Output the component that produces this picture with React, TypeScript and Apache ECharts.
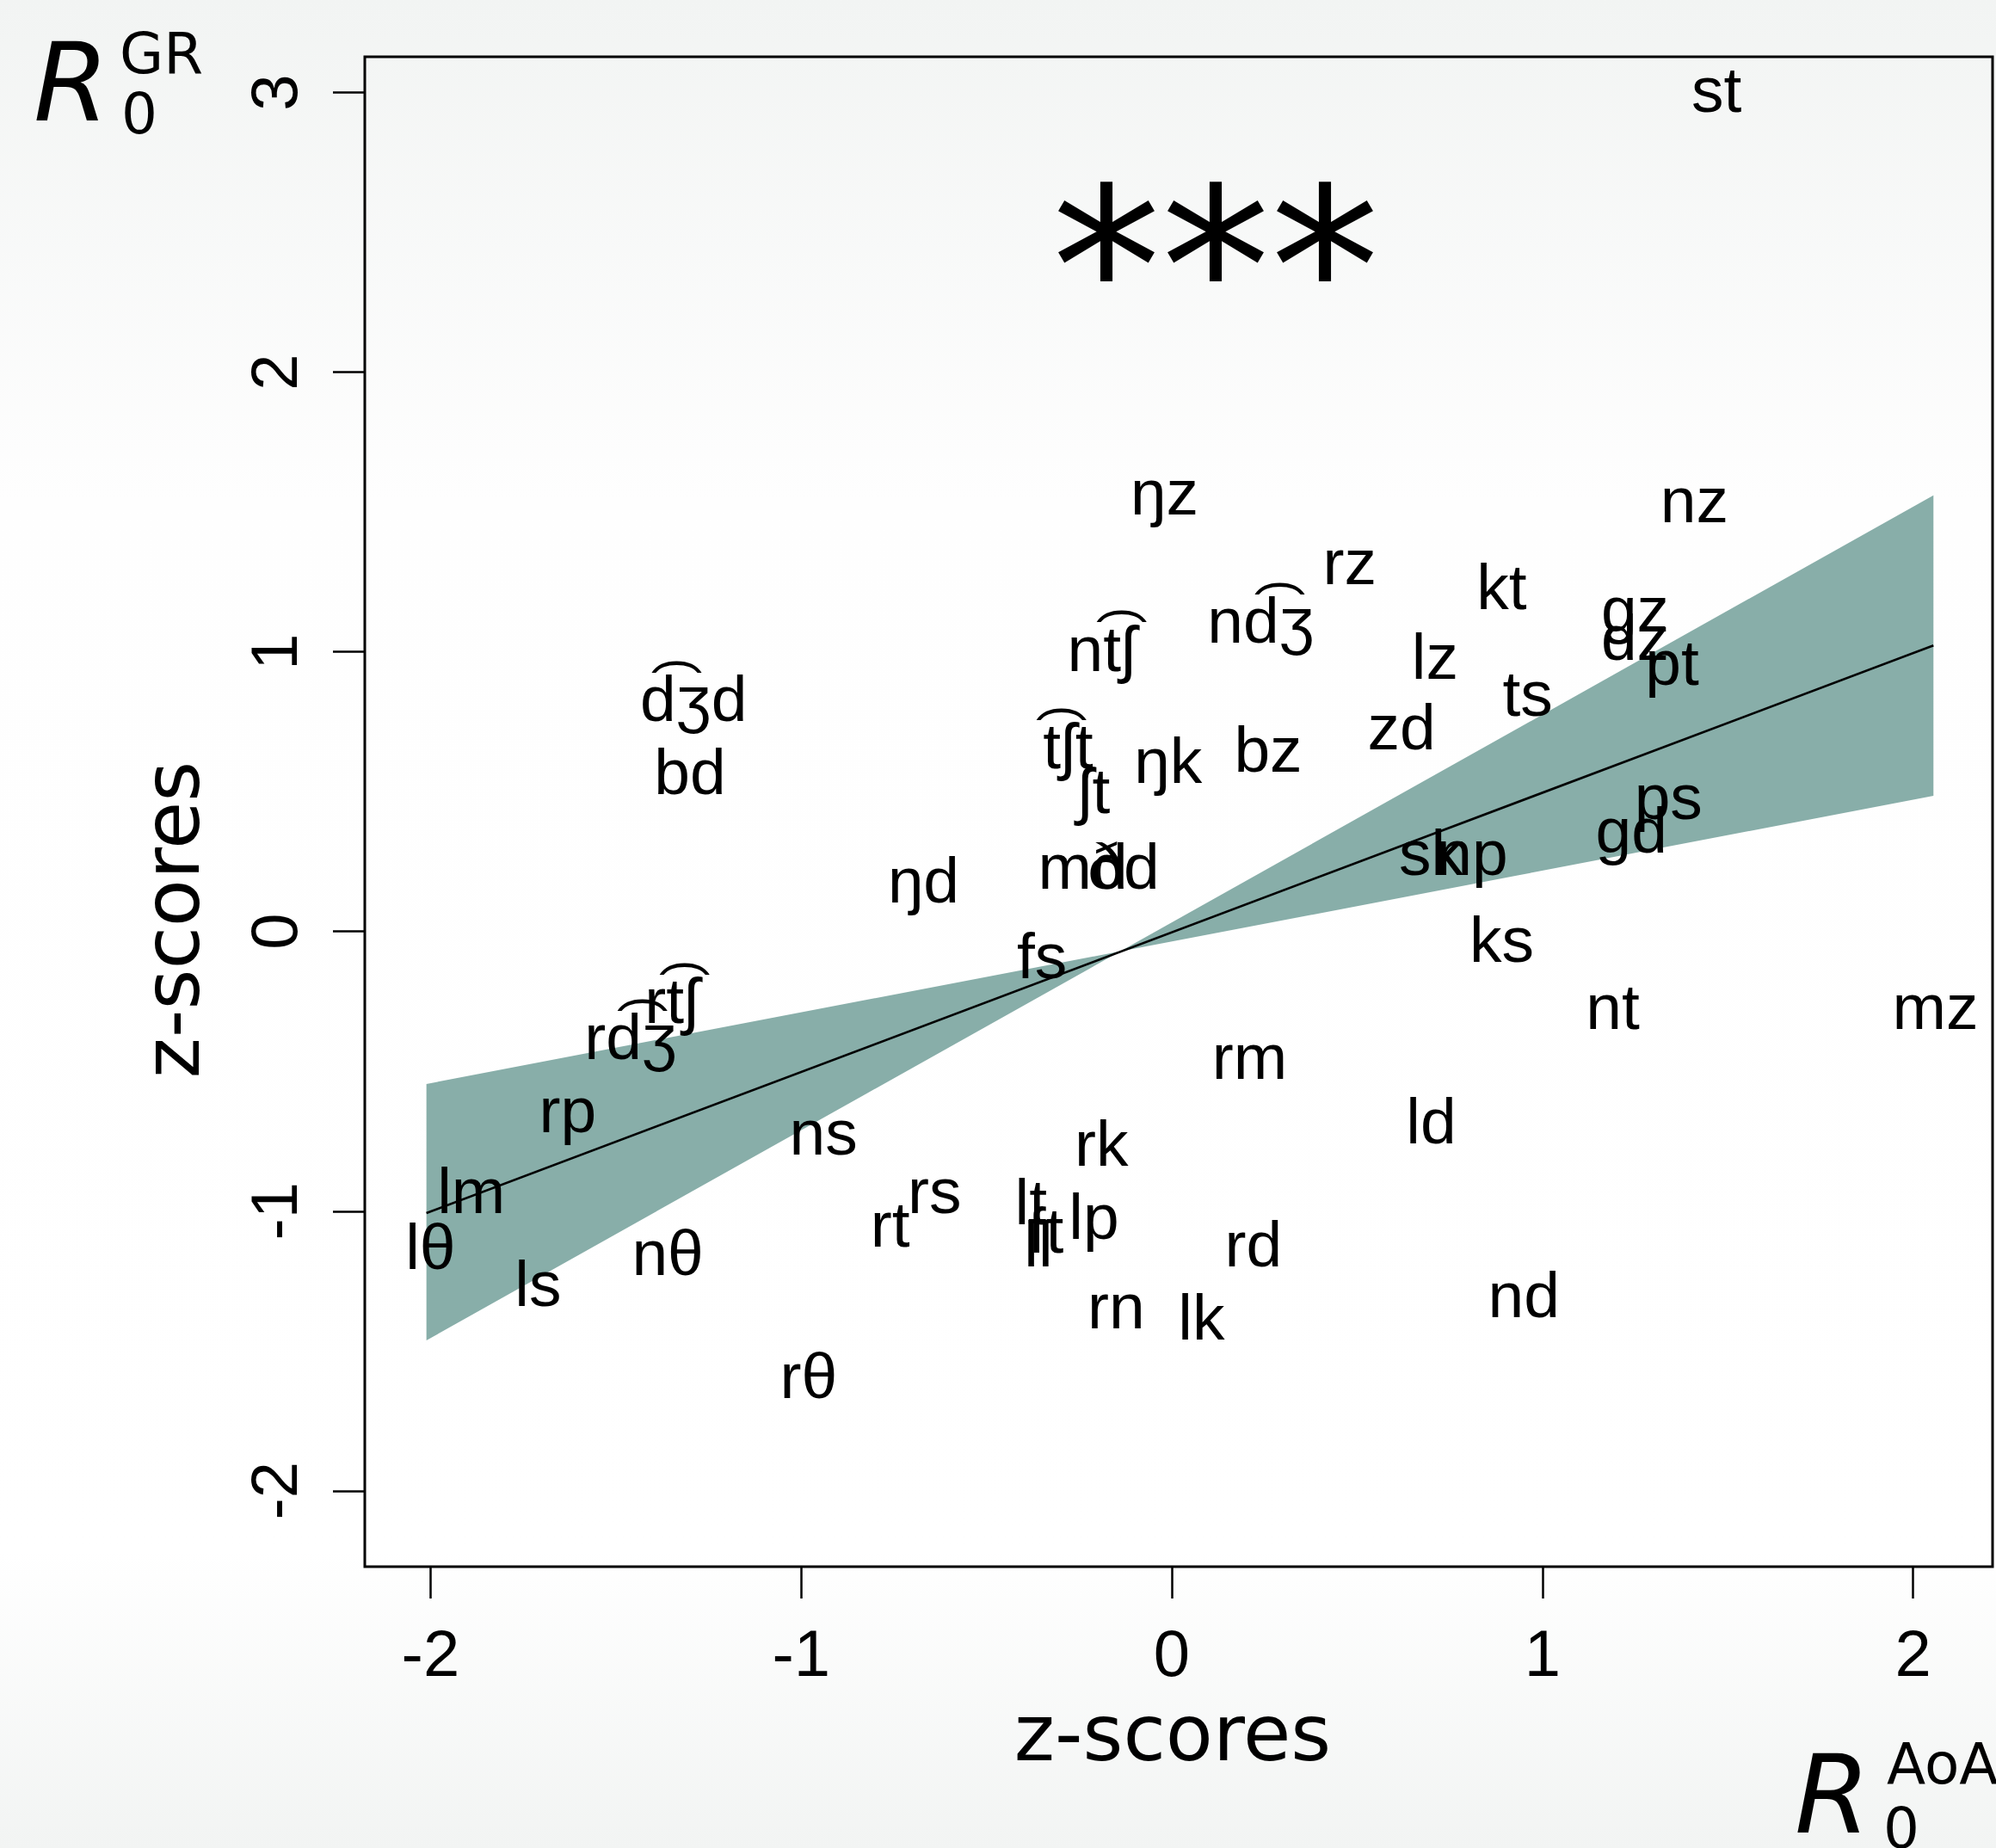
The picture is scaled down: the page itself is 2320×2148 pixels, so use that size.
import React, { useEffect, useRef } from "react";
import * as echarts from "echarts";

// ---- data ----
const labels = [
  "st", "\u014Bz", "nz", "rz", "kt", "nd\u0361\u0292", "nt\u0361\u0283", "gz", "dz", "lz",
  "pt", "ts", "d\u0361\u0292d", "zd", "t\u0361\u0283t", "\u0283t", "\u014Bk", "bz", "bd", "ps",
  "gd", "sk", "np", "\u00F0d", "md", "\u014Bd", "fs", "ks", "rt\u0361\u0283", "rd\u0361\u0292",
  "nt", "mz", "rm", "rp", "ld", "ns", "rk", "lm", "rs", "lt",
  "lp", "ft", "ll", "l\u03B8", "rt", "rd", "n\u03B8", "ls", "nd", "rn",
  "lk", "r\u03B8",
];
const xVals = [
  1.47, -0.02, 1.41, 0.48, 0.89, 0.24, -0.19, 1.25, 1.25, 0.71,
  1.35, 0.96, -1.29, 0.62, -0.28, -0.21, -0.01, 0.26, -1.30, 1.34,
  1.24, 0.70, 0.81, -0.13, -0.24, -0.67, -0.35, 0.89, -1.35, -1.46,
  1.19, 2.06, 0.21, -1.63, 0.70, -0.94, -0.19, -1.89, -0.64, -0.38,
  -0.21, -0.34, -0.36, -2.00, -0.76, 0.22, -1.36, -1.71, 0.95, -0.15,
  0.08, -0.98,
];
const yVals = [
  3.00, 1.56, 1.53, 1.31, 1.22, 1.10, 1.00, 1.14, 1.04, 0.97,
  0.95, 0.84, 0.82, 0.72, 0.65, 0.49, 0.60, 0.64, 0.56, 0.47,
  0.35, 0.27, 0.27, 0.22, 0.22, 0.17, -0.10, -0.04, -0.26, -0.39,
  -0.28, -0.28, -0.46, -0.65, -0.69, -0.73, -0.77, -0.94, -0.94, -0.98,
  -1.03, -1.08, -1.13, -1.14, -1.06, -1.13, -1.16, -1.27, -1.31, -1.35,
  -1.39, -1.60,
];
const lineX = [-2.011, 2.055];
const lineY = [-1.007, 1.023];
const bandX = [-2.011, -0.139, 2.055];
const bandSteep = [-1.462, -0.071, 1.56];
const bandShallow = [-0.545, -0.071, 0.485];
const xTicks = [-2, -1, 0, 1, 2];
const yTicks = [-2, -1, 0, 1, 2, 3];
const axisTitle = "z-scores";
const sigMark = "***";

const BLACK = "#000000";
const LAB_FONT = "'Liberation Sans', 'DejaVu Sans', Arial, sans-serif";
const DV_FONT = "'DejaVu Sans', sans-serif";

function txt(text: string, x: number, baseline: number, size: number, opts: any = {}) {
  return {
    type: "text",
    x,
    y: baseline - 0.3465 * size,
    rotation: opts.rotation || 0,
    z: 100,
    style: {
      text,
      fontSize: size,
      fontFamily: opts.family || DV_FONT,
      fontStyle: opts.italic ? "italic" : "normal",
      fill: BLACK,
      align: opts.align || "left",
      verticalAlign: "middle",
    },
  };
}

export default function App() {
  const ref = useRef<HTMLDivElement>(null);
  useEffect(() => {
    if (!ref.current) return;
    const chart = echarts.init(ref.current, undefined, { renderer: "svg" });
    const labelData = labels.map((n, i) => ({ name: n, value: [xVals[i], yVals[i]] }));
    const option: any = {
      animation: false,
      backgroundColor: {
        type: "linear", x: 0, y: 0, x2: 0, y2: 1,
        colorStops: [
          { offset: 0, color: "#f2f4f3" },
          { offset: 0.27, color: "#fefefe" },
          { offset: 0.84, color: "#ffffff" },
          { offset: 1, color: "#f2f4f3" },
        ],
      },
      grid: {
        left: 424, right: 4, top: 66, bottom: 327,
        show: true, borderColor: BLACK, borderWidth: 3, backgroundColor: "transparent",
      },
      xAxis: {
        type: "value", min: -2.1773, max: 2.2145,
        splitLine: { show: false },
        axisLine: { show: false, onZero: false },
        axisTick: { show: true, length: 37, lineStyle: { color: BLACK, width: 2.5 }, customValues: xTicks },
        axisLabel: { customValues: xTicks, fontSize: 76, fontFamily: LAB_FONT, color: BLACK, margin: 62 },
      },
      yAxis: {
        type: "value", min: -2.2713, max: 3.128,
        splitLine: { show: false },
        axisLine: { show: false, onZero: false },
        axisTick: { show: true, length: 37, lineStyle: { color: BLACK, width: 2.5 }, customValues: yTicks },
        axisLabel: { customValues: yTicks, rotate: 90, fontSize: 76, fontFamily: LAB_FONT, color: BLACK, margin: 68 },
      },
      series: [
        {
          type: "custom",
          z: 1,
          silent: true,
          data: [[0, 0]],
          renderItem: (params: any, api: any) => {
            const pts: number[][] = [];
            for (let i = 0; i < bandX.length; i++) pts.push(api.coord([bandX[i], bandSteep[i]]));
            for (let i = bandX.length - 1; i >= 0; i--) pts.push(api.coord([bandX[i], bandShallow[i]]));
            return { type: "polygon", shape: { points: pts }, style: { fill: "#88aea9", stroke: "none" } };
          },
        },
        {
          type: "line",
          z: 2,
          symbol: "none",
          data: lineX.map((x, i) => [x, lineY[i]]),
          lineStyle: { color: BLACK, width: 2.6 },
        },
        {
          type: "scatter",
          z: 3,
          symbolSize: 1,
          itemStyle: { color: "rgba(0,0,0,0)", opacity: 1 },
          data: labelData,
          label: {
            show: true,
            position: "inside",
            offset: [0, -4],
            formatter: "{b}",
            fontSize: 75,
            fontFamily: LAB_FONT,
            color: BLACK,
            opacity: 1,
            textBorderWidth: 0,
            align: "center",
            verticalAlign: "middle",
          },
        },
      ],
      graphic: [
        {
          type: "text", x: 1413, y: 312, z: 100,
          style: { text: sigMark, fontSize: 254, fontFamily: DV_FONT, fill: BLACK, align: "center", verticalAlign: "middle" },
        },
        txt(axisTitle, 1363, 2046, 90, { align: "center" }),
        { ...txt(axisTitle, 0, 0, 90, { align: "center" }), x: 199, y: 1069, rotation: Math.PI / 2 },
        txt("R", 39, 140, 126, { italic: true }),
        txt("GR", 139, 85, 66),
        txt("0", 141, 155, 66),
        txt("R", 2086, 2130, 126, { italic: true }),
        txt("AoA", 2193, 2073, 66),
        txt("0", 2189, 2148, 66),
      ],
    };
    chart.setOption(option);
    return () => chart.dispose();
  }, []);
  return (
    <div
      ref={ref}
      style={{ position: "absolute", left: 0, top: 0, width: 2320, height: 2148 }}
    />
  );
}
